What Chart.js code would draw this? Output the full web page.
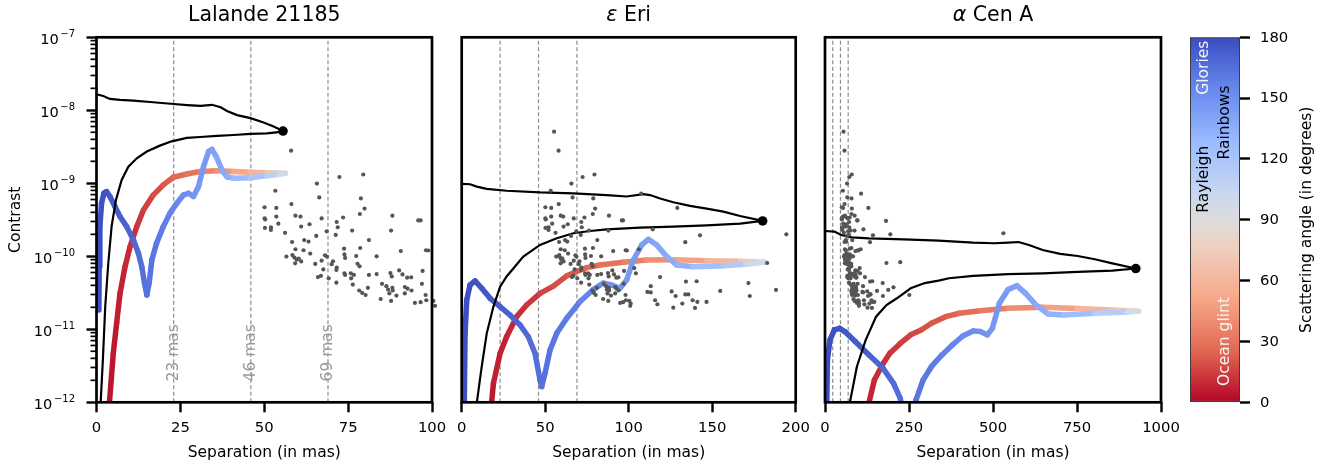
<!DOCTYPE html>
<html>
<head>
<meta charset="utf-8">
<script src="https://cdn.jsdelivr.net/npm/chart.js@4.4.1/dist/chart.umd.min.js"></script>
<style>
  html, body { margin: 0; padding: 0; background: #fff; }
  #wrap { position: relative; width: 1343px; height: 469px; }
  #wrap canvas { position: absolute; left: 0; top: 0; }
</style>
</head>
<body>
<div id="wrap">
  <canvas id="p1" width="1343" height="469"></canvas>
  <canvas id="p2" width="1343" height="469"></canvas>
  <canvas id="p3" width="1343" height="469"></canvas>
  <canvas id="cb" width="1343" height="469"></canvas>
</div>
<script>
// ---- shared axis values ----
const Y_MAJOR = [1e-12, 1e-11, 1e-10, 1e-9, 1e-8, 1e-7];
const Y_EXP = [-12, -11, -10, -9, -8, -7];
const SEP_LINES = [23, 46, 69]; // mas
const CB_LABELS = ["Glories", "Rainbows", "Rayleigh", "Ocean glint"];
const CB_LABEL_ANGLES = [165, 138, 110, 30];

// ---- grey dots (same set drawn in every panel) ----
const DOTS_X = [58.0, 72.4, 79.5, 65.7, 53.3, 66.4, 78.8, 50.1, 53.6, 58.1, 79.9, 78.5, 50.1, 50.3, 53.6, 59.3, 60.8, 67.1, 71.6, 73.5,
  88.2, 95.9, 96.6, 54.2, 50.2, 52.0, 52.0, 61.0, 63.5, 71.9, 56.2, 68.6, 71.3, 76.2, 87.8, 65.5, 81.2, 58.3, 61.9, 63.2,
  59.3, 61.7, 63.7, 73.8, 78.6, 90.7, 98.2, 98.9, 106.1, 56.6, 58.4, 59.0, 59.7, 60.3, 61.0, 59.2, 65.2, 67.1, 68.1, 68.7,
  73.9, 74.1, 77.4, 83.5, 70.5, 70.1, 71.6, 71.5, 67.6, 77.8, 78.4, 66.0, 66.9, 69.2, 71.5, 73.9, 74.1, 75.8, 76.7, 75.9,
  76.4, 81.2, 83.5, 87.6, 88.0, 90.2, 91.2, 92.6, 93.8, 97.2, 103.3, 104.3, 78.3, 79.2, 80.2, 80.9, 85.1, 86.4, 86.9, 87.3,
  88.2, 88.3, 89.4, 91.9, 92.7, 91.9, 93.9, 97.0, 84.7, 87.8, 94.9, 96.6, 98.1, 98.3, 100.4, 101.2, 100.9, 107.5, 55.3,
  129.1, 114.4, 142.7, 133.9, 118.8, 134.3, 140.7, 111.2, 113.2, 113.2, 115.8, 117.2, 125.7, 128.1, 133.9, 135.7, 138.3,
  141.1, 139.7, 146.6, 126.7, 132.1, 154.8, 171.7, 172.5, 182.9, 188.2, 194.4, 203.8, 181.5, 224, 251, 531];
const DOTS_Y = [2.8e-9, 1.22e-9, 1.32e-9, 9.9e-10, 7.9e-10, 6.4e-10, 6.2e-10, 4.7e-10, 4.6e-10, 5.2e-10, 4.5e-10, 3.8e-10, 3.3e-10, 3.2e-10, 3.5e-10, 3.6e-10, 3.5e-10, 3.3e-10, 2.95e-10, 3.4e-10,
  3.6e-10, 3.1e-10, 3.1e-10, 2.8e-10, 2.45e-10, 2.5e-10, 2.3e-10, 2.55e-10, 2.75e-10, 2.5e-10, 2.1e-10, 2.2e-10, 1.96e-10, 2.25e-10, 2.25e-10, 1.9e-10, 1.67e-10, 1.57e-10, 1.67e-10, 1.59e-10,
  1.25e-10, 1.21e-10, 1.09e-10, 1.27e-10, 1.3e-10, 1.18e-10, 1.21e-10, 1.2e-10, 1.25e-10, 9.9e-11, 1.04e-10, 9.6e-11, 9.0e-11, 9.3e-11, 8.5e-11, 8.0e-11, 7.85e-11, 8.7e-11, 1.03e-10, 9.9e-11,
  1.06e-10, 9.5e-11, 1.01e-10, 1.0e-10, 8.55e-11, 7.8e-11, 7.0e-11, 6.5e-11, 6.6e-11, 7.9e-11, 7.3e-11, 5.2e-11, 5.4e-11, 5.0e-11, 4.35e-11, 5.85e-11, 5.55e-11, 5.85e-11, 5.55e-11, 5.0e-11,
  4.1e-11, 5.55e-11, 5.7e-11, 5.9e-11, 5.3e-11, 6.4e-11, 5.65e-11, 5.1e-11, 5.15e-11, 6.3e-11, 6.9e-11, 5.85e-11, 3.4e-11, 3.15e-11, 2.95e-11, 3.7e-11, 4.2e-11, 3.9e-11, 3.5e-11, 3.1e-11,
  3.7e-11, 3.4e-11, 2.9e-11, 3.8e-11, 3.6e-11, 3.1e-11, 3.4e-11, 4.2e-11, 2.6e-11, 2.45e-11, 2.3e-11, 2.35e-11, 2.95e-11, 2.5e-11, 2.45e-11, 2.25e-11, 2.1e-11, 7.2e-10, 5.1e-9,
  4.6e-10, 2.34e-10, 1.94e-10, 1.56e-10, 5.2e-11, 4.5e-11, 4.55e-11, 3.25e-11, 3.2e-11, 3.9e-11, 2.5e-11, 2.2e-11, 3.3e-11, 2.86e-11, 3.0e-11, 3.0e-11, 2.5e-11,
  2.37e-11, 1.96e-11, 2.37e-11, 1.98e-11, 2.25e-11, 3.35e-11, 4.3e-11, 2.86e-11, 8.1e-11, 3.46e-11, 2.0e-10, 3.76e-11, 3.05e-10, 8.3e-11, 2.95e-11, 2.07e-10];

// ---- Lalande 21185 ----
const P1_RED_X = [3.7, 5.0, 6.0, 7.0, 8.5, 10.0, 12.0, 14.0, 16.9, 19.9, 22.9, 26.9, 30.9, 35.9, 40.9, 45.9, 50.8, 54.5, 56.3];
const P1_RED_Y = [8e-13, 4.7e-12, 1.21e-11, 3.1e-11, 7.2e-11, 1.36e-10, 2.55e-10, 4.3e-10, 6.9e-10, 9.5e-10, 1.21e-9, 1.34e-9, 1.45e-9, 1.49e-9, 1.45e-9, 1.42e-9, 1.40e-9, 1.38e-9, 1.37e-9];
const P1_RED_A = [4, 5, 6, 7, 9, 10, 12, 14, 17, 21, 24, 28, 33, 40, 47, 55, 64, 75, 88];
const P1_BLUE_X = [0.7, 0.8, 1.0, 1.5, 2.2, 3.0, 4.0, 5.5, 7.0, 9.0, 11.0, 12.5, 13.5, 14.3, 15.0, 15.7, 16.5, 17.9, 19.9, 21.9,
  23.9, 25.9, 27.4, 28.9, 30.4, 31.9, 33.4, 34.4, 35.7, 37.4, 38.9, 40.9, 45.9, 50.8, 54.5, 56.3];
const P1_BLUE_Y = [1.84e-11, 7.2e-11, 2.55e-10, 5.3e-10, 7.3e-10, 7.7e-10, 6.6e-10, 4.8e-10, 3.5e-10, 2.55e-10, 1.67e-10, 1.10e-10, 7.2e-11, 4.3e-11, 2.95e-11, 4.3e-11, 8.9e-11, 1.51e-10, 2.55e-10, 3.9e-10,
  5.3e-10, 6.9e-10, 7.3e-10, 6.6e-10, 9.0e-10, 1.69e-9, 2.72e-9, 2.92e-9, 2.32e-9, 1.52e-9, 1.23e-9, 1.17e-9, 1.19e-9, 1.27e-9, 1.33e-9, 1.37e-9];
const P1_BLUE_A = [179, 179, 179, 178, 178, 177, 176, 174, 173, 171, 169, 167, 166, 165, 164, 164, 163, 161, 159, 157,
  155, 153, 151, 149, 147, 145, 144, 142, 141, 138, 136, 133, 125, 115, 105, 90];
const P1_LOW_X = [0.9, 1.9, 2.6, 3.5, 4.5, 5.8, 7.5, 9.5, 12.0, 15.0, 18.9, 22.4, 26.9, 30.9, 35.9, 40.9, 45.9, 50.8, 55.6];
const P1_LOW_Y = [5e-13, 3.8e-12, 2.04e-11, 7.9e-11, 2.57e-10, 5.9e-10, 1.11e-9, 1.69e-9, 2.2e-9, 2.72e-9, 3.28e-9, 3.76e-9, 4.18e-9, 4.31e-9, 4.45e-9, 4.59e-9, 4.74e-9, 4.84e-9, 5.1e-9];
const P1_UP_X = [0, 2.0, 4.0, 7.0, 11.0, 16.0, 23.0, 27.0, 31.0, 34.4, 37.0, 38.9, 41.9, 45.9, 49.8, 52.8, 55.6];
const P1_UP_Y = [1.66e-8, 1.57e-8, 1.43e-8, 1.39e-8, 1.36e-8, 1.30e-8, 1.22e-8, 1.18e-8, 1.15e-8, 1.19e-8, 1.1e-8, 9.8e-9, 8.6e-9, 7.8e-9, 6.8e-9, 6.0e-9, 5.2e-9];
const P1_DOT = [55.6, 5.2e-9];

// ---- eps Eri ----
const P2_RED_X = [17.5, 19.0, 23.0, 26.9, 32.9, 38.9, 46.9, 54.9, 62.9, 68.9, 74.9, 82.8, 96.8, 110.8, 126.7, 146.7, 166.7, 176, 181.6];
const P2_RED_Y = [8e-13, 1.82e-12, 4.7e-12, 7.9e-12, 1.49e-11, 2.15e-11, 3.1e-11, 3.9e-11, 5.4e-11, 6.2e-11, 7.0e-11, 7.6e-11, 8.3e-11, 8.9e-11, 9.0e-11, 8.7e-11, 8.55e-11, 8.4e-11, 8.3e-11];
const P2_RED_A = [5, 6, 7, 8, 10, 12, 15, 18, 20, 22, 24, 27, 32, 38, 44, 54, 67, 76, 90];
const P2_BLUE_X = [1.5, 2.0, 3.0, 5.0, 8.0, 12.0, 17.0, 23.0, 28.9, 34.9, 39.9, 43.9, 46.9, 47.9, 49.9, 52.9, 56.9, 62.9, 70.9, 78.8,
  84.8, 89.8, 94.8, 98.8, 102.8, 107.8, 111.8, 116.8, 122.8, 128.7, 138.7, 156.7, 170, 181.6];
const P2_BLUE_Y = [8e-13, 8.8e-12, 2.52e-11, 4.05e-11, 4.6e-11, 3.65e-11, 2.66e-11, 2.05e-11, 1.57e-11, 1.15e-11, 7.9e-12, 4.7e-12, 2.02e-12, 1.64e-12, 2.5e-12, 5.2e-12, 8.8e-12, 1.42e-11, 2.4e-11, 3.5e-11,
  4.3e-11, 4.05e-11, 3.65e-11, 4.75e-11, 8.9e-11, 1.43e-10, 1.71e-10, 1.43e-10, 9.9e-11, 7.6e-11, 7.2e-11, 7.4e-11, 7.8e-11, 8.3e-11];
const P2_BLUE_A = [180, 179, 179, 178, 177, 176, 175, 173, 171, 169, 167, 166, 165, 165, 164, 163, 162, 160, 157, 154,
  152, 150, 148, 147, 145, 144, 142, 140, 137, 135, 130, 120, 111, 90];
const P2_LOW_X = [8.5, 12.0, 15.0, 19.0, 23.0, 26.9, 36.9, 46.9, 56.9, 66.9, 76.8, 86.8, 106.8, 126.7, 146.7, 166.7, 180.2];
const P2_LOW_Y = [8e-13, 3.1e-12, 8.8e-12, 2.05e-11, 3.84e-11, 5.3e-11, 9.9e-11, 1.43e-10, 1.77e-10, 2.07e-10, 2.22e-10, 2.34e-10, 2.47e-10, 2.55e-10, 2.66e-10, 2.8e-10, 3.05e-10];
const P2_UP_X = [0, 5.0, 9.0, 15.0, 26.9, 46.9, 66.9, 86.8, 98.8, 108.8, 112.8, 118.8, 126.7, 136.7, 146.7, 156.7, 166.7, 180.2];
const P2_UP_Y = [9.8e-10, 9.7e-10, 9.0e-10, 8.4e-10, 7.9e-10, 7.5e-10, 7.3e-10, 6.9e-10, 6.6e-10, 7.1e-10, 6.9e-10, 6.2e-10, 5.5e-10, 4.9e-10, 4.5e-10, 4.1e-10, 3.57e-10, 3.05e-10];
const P2_DOT = [180.2, 3.05e-10];

// ---- alpha Cen A ----
const P3_RED_X = [126, 147, 173, 193, 224, 255, 286, 317, 359, 400, 462, 545, 648, 752, 855, 905, 933];
const P3_RED_Y = [8e-13, 2.02e-12, 3.4e-12, 4.7e-12, 6.4e-12, 8.4e-12, 9.8e-12, 1.21e-11, 1.49e-11, 1.66e-11, 1.8e-11, 1.94e-11, 2.0e-11, 1.92e-11, 1.84e-11, 1.8e-11, 1.77e-11];
const P3_RED_A = [8, 9, 11, 12, 14, 16, 18, 20, 23, 25, 30, 36, 44, 54, 66, 76, 90];
const P3_BLUE_X = [5, 7.2, 14.5, 27.9, 43.4, 58.9, 90, 131, 173, 204, 224, 248, 271, 292, 317, 348, 379, 410, 441, 462,
  483, 498, 519, 545, 571, 597, 628, 664, 710, 803, 900, 933];
const P3_BLUE_Y = [8e-13, 3.8e-12, 7.1e-12, 9.8e-12, 1.03e-11, 9.3e-12, 6.8e-12, 4.45e-12, 2.92e-12, 1.82e-12, 1.13e-12, 3e-13, 1.08e-12, 2.02e-12, 3.1e-12, 4.45e-12, 6.1e-12, 8.1e-12, 9.5e-12, 9.3e-12,
  8.4e-12, 1.03e-11, 2.27e-11, 3.5e-11, 3.96e-11, 3.1e-11, 2.15e-11, 1.62e-11, 1.57e-11, 1.66e-11, 1.72e-11, 1.77e-11];
const P3_BLUE_A = [180, 180, 179, 178, 177, 176, 175, 172, 169, 167, 166, 165, 163, 162, 160, 158, 156, 154, 152, 150,
  149, 148, 146, 144, 142, 140, 138, 135, 130, 121, 105, 90];
const P3_LOW_X = [70, 95, 121, 152, 183, 214, 255, 297, 338, 369, 441, 545, 648, 752, 855, 925];
const P3_LOW_Y = [8e-13, 3.1e-12, 7.1e-12, 1.49e-11, 2.15e-11, 2.66e-11, 3.65e-11, 4.3e-11, 4.65e-11, 5.0e-11, 5.4e-11, 5.7e-11, 5.85e-11, 6.1e-11, 6.35e-11, 6.8e-11];
const P3_UP_X = [0, 27.9, 48.6, 79.6, 131, 235, 338, 441, 504, 545, 576, 607, 648, 700, 752, 803, 855, 925];
const P3_UP_Y = [2.22e-10, 2.18e-10, 1.96e-10, 1.82e-10, 1.76e-10, 1.71e-10, 1.64e-10, 1.54e-10, 1.51e-10, 1.54e-10, 1.57e-10, 1.43e-10, 1.22e-10, 1.08e-10, 1.01e-10, 9.1e-11, 8.0e-11, 6.8e-11];
const P3_DOT = [925, 6.8e-11];

// coolwarm, reversed so 0 deg is red and 180 deg is blue
const CMAP = [
  [0, "#b40426"], [25.7, "#e26952"], [51.4, "#f7a889"], [77.1, "#edd1c2"], [90, "#dddddd"],
  [102.9, "#c9d7f0"], [128.6, "#9abbff"], [154.3, "#6788ee"], [180, "#3b4cc0"],
];

const FONT = "'DejaVu Sans', sans-serif";
Chart.defaults.font.family = FONT;
Chart.defaults.color = "#000";

function hex(c) {
  return [1, 3, 5].map((i) => parseInt(c.slice(i, i + 2), 16));
}

function angleColor(a) {
  a = Math.max(0, Math.min(180, a));
  for (let i = 1; i < CMAP.length; i++) {
    if (a <= CMAP[i][0]) {
      const [a0, c0] = CMAP[i - 1], [a1, c1] = CMAP[i];
      const t = (a - a0) / (a1 - a0);
      const p = hex(c0), q = hex(c1);
      const rgb = p.map((v, k) => Math.round(v + (q[k] - v) * t));
      return `rgb(${rgb.join(",")})`;
    }
  }
  return CMAP[CMAP.length - 1][1];
}

function pts(xs, ys) {
  return xs.map((x, i) => ({ x, y: ys[i] }));
}

function curve(xs, ys, ang, order) {
  return {
    data: pts(xs, ys),
    showLine: true,
    borderWidth: 5.5,
    borderCapStyle: "round",
    borderJoinStyle: "round",
    borderColor: angleColor(ang[0]),
    segment: {
      borderColor: (c) => angleColor((ang[c.p0DataIndex] + ang[c.p1DataIndex]) / 2),
    },
    pointRadius: 0,
    order,
  };
}

function blackLine(xs, ys) {
  return { data: pts(xs, ys), showLine: true, borderColor: "#000", borderWidth: 2.2, pointRadius: 0, order: 2 };
}

// white axes face, thick frame and the title (greek letter in italic, as mathtext does)
const paneFrame = {
  id: "paneFrame",
  beforeDraw(chart) {
    const { ctx, chartArea: a } = chart;
    ctx.save();
    ctx.fillStyle = "#fff";
    ctx.fillRect(a.left, a.top, a.width, a.height);
    ctx.restore();
  },
  afterDraw(chart) {
    const { ctx, chartArea: a } = chart;
    ctx.save();
    ctx.strokeStyle = "#000";
    ctx.lineWidth = 2.7;
    ctx.strokeRect(a.left, a.top, a.width, a.height);

    const [greek, rest] = chart.options.plugins.paneFrame.title;
    const fItal = `italic 20.5px ${FONT}`, fNorm = `20.5px ${FONT}`;
    ctx.font = fItal;
    const wG = greek ? ctx.measureText(greek).width : 0;
    ctx.font = fNorm;
    const wR = ctx.measureText(rest).width;
    let x = (a.left + a.right) / 2 - (wG + wR) / 2;
    ctx.fillStyle = "#000";
    ctx.textAlign = "left";
    ctx.textBaseline = "middle";
    if (greek) {
      ctx.font = fItal;
      ctx.fillText(greek, x, 16);
      x += wG;
    }
    ctx.font = fNorm;
    ctx.fillText(rest, x, 16);
    ctx.restore();
  },
};

// minor log ticks, 10^n tick labels and "xx mas" labels, first panel only
const firstPanelExtras = {
  id: "firstPanelExtras",
  afterDraw(chart) {
    const { ctx, chartArea: a, scales } = chart;
    ctx.save();
    ctx.strokeStyle = "#000";
    ctx.lineWidth = 1.7;
    for (let e = -12; e < -7; e++) {
      for (let m = 2; m <= 9; m++) {
        const y = scales.y.getPixelForValue(m * Math.pow(10, e));
        ctx.beginPath();
        ctx.moveTo(a.left - 6, y);
        ctx.lineTo(a.left, y);
        ctx.stroke();
      }
    }

    ctx.fillStyle = "#000";
    ctx.textAlign = "right";
    ctx.textBaseline = "alphabetic";
    const right = a.left - 21.5;
    Y_MAJOR.forEach((v, i) => {
      const y = scales.y.getPixelForValue(v);
      const ex = String(Y_EXP[i]).replace("-", "\u2212");
      ctx.font = `10px ${FONT}`;
      const wE = ctx.measureText(ex).width;
      ctx.fillText(ex, right, y - 0.3);
      ctx.font = `14.6px ${FONT}`;
      ctx.fillText("10", right - wE - 1.5, y + 6.7);
    });

    ctx.fillStyle = "#999";
    ctx.font = `15.5px ${FONT}`;
    ctx.textAlign = "left";
    ctx.textBaseline = "middle";
    SEP_LINES.forEach((v) => {
      ctx.save();
      ctx.translate(scales.x.getPixelForValue(v), scales.y.getPixelForValue(1.93e-12));
      ctx.rotate(-Math.PI / 2);
      ctx.fillText(`${v} mas`, 0, 0);
      ctx.restore();
    });
    ctx.restore();
  },
};

function panel(id, o) {
  const datasets = [
    ...SEP_LINES.map((v) => ({
      data: [{ x: v, y: 1e-12 }, { x: v, y: 1e-7 }],
      showLine: true,
      borderColor: "#8c8c8c",
      borderWidth: 1.2,
      borderDash: [4, 2.5],
      pointRadius: 0,
      order: 6,
    })),
    curve(o.redX, o.redY, o.redA, 5),
    curve(o.blueX, o.blueY, o.blueA, 4),
    blackLine(o.lowX, o.lowY),
    blackLine(o.upX, o.upY),
    {
      data: pts(DOTS_X, DOTS_Y),
      showLine: false,
      pointRadius: 2.1,
      pointBackgroundColor: "#555",
      pointBorderWidth: 0,
      clip: false,
      order: 1,
    },
    {
      data: [{ x: o.dot[0], y: o.dot[1] }],
      pointRadius: 4.8,
      pointBackgroundColor: "#000",
      pointBorderWidth: 0,
      order: 0,
    },
  ];

  const tickGrid = { drawOnChartArea: false, tickLength: 10, tickWidth: 2.4, tickColor: "#000" };
  const yScale = { type: "logarithmic", min: 1e-12, max: 1e-7, display: !!o.showY };
  if (o.showY) {
    Object.assign(yScale, {
      afterBuildTicks: (s) => { s.ticks = Y_MAJOR.map((v) => ({ value: v })); },
      afterFit: (s) => { s.width = 96; },
      ticks: { callback: () => "" },
      grid: tickGrid,
      border: { display: false },
      title: { display: true, text: "Contrast", font: { size: 15.5 }, padding: { top: 6.2, bottom: 0 } },
    });
  }

  return new Chart(document.getElementById(id), {
    type: "scatter",
    data: { datasets },
    options: {
      responsive: false,
      animation: false,
      events: [],
      layout: { padding: { left: o.padL, right: o.padR, top: 37.3, bottom: 0 } },
      plugins: {
        legend: { display: false },
        tooltip: { enabled: false },
        title: { display: false },
        paneFrame: { title: o.title },
      },
      scales: {
        x: {
          type: "linear",
          min: 0,
          max: o.xMax,
          afterFit: (s) => { s.height = 66.7; },
          ticks: { stepSize: o.xStep, font: { size: 14.8 }, padding: 6.5, autoSkip: false, maxRotation: 0, callback: (v) => String(v) },
          grid: tickGrid,
          border: { display: false },
          title: { display: true, text: "Separation (in mas)", font: { size: 15.5 }, padding: { top: 0, bottom: 6.8 } },
        },
        y: yScale,
      },
    },
    plugins: o.showY ? [paneFrame, firstPanelExtras] : [paneFrame],
  });
}

panel("p1", {
  title: ["", "Lalande 21185"], xMax: 100, xStep: 25, padL: 0.5, padR: 911, showY: true,
  redX: P1_RED_X, redY: P1_RED_Y, redA: P1_RED_A, blueX: P1_BLUE_X, blueY: P1_BLUE_Y, blueA: P1_BLUE_A,
  lowX: P1_LOW_X, lowY: P1_LOW_Y, upX: P1_UP_X, upY: P1_UP_Y, dot: P1_DOT,
});
panel("p2", {
  title: ["\u03b5", " Eri"], xMax: 200, xStep: 50, padL: 461.7, padR: 547.3,
  redX: P2_RED_X, redY: P2_RED_Y, redA: P2_RED_A, blueX: P2_BLUE_X, blueY: P2_BLUE_Y, blueA: P2_BLUE_A,
  lowX: P2_LOW_X, lowY: P2_LOW_Y, upX: P2_UP_X, upY: P2_UP_Y, dot: P2_DOT,
});
panel("p3", {
  title: ["\u03b1", " Cen A"], xMax: 1000, xStep: 250, padL: 825, padR: 182,
  redX: P3_RED_X, redY: P3_RED_Y, redA: P3_RED_A, blueX: P3_BLUE_X, blueY: P3_BLUE_Y, blueA: P3_BLUE_A,
  lowX: P3_LOW_X, lowY: P3_LOW_Y, upX: P3_UP_X, upY: P3_UP_Y, dot: P3_DOT,
});

// ---- colorbar ----
const cbText = {
  id: "cbText",
  afterDraw(chart) {
    const { ctx, chartArea: a, scales } = chart;
    const xs = [0.28, 0.7, 0.28, 0.7];
    const colors = ["#f4f4f4", "#000", "#000", "#f4f4f4"];
    ctx.save();
    ctx.font = `15.5px ${FONT}`;
    ctx.textAlign = "center";
    ctx.textBaseline = "middle";
    CB_LABELS.forEach((t, i) => {
      ctx.save();
      ctx.translate(a.left + a.width * xs[i], scales.y.getPixelForValue(CB_LABEL_ANGLES[i]));
      ctx.rotate(-Math.PI / 2);
      ctx.fillStyle = colors[i];
      ctx.fillText(t, 0, 0);
      ctx.restore();
    });

    // tick labels
    ctx.fillStyle = "#000";
    ctx.font = `14.8px ${FONT}`;
    ctx.textAlign = "left";
    scales.y.ticks.forEach((t) => {
      ctx.fillText(String(t.value), a.right + 20, scales.y.getPixelForValue(t.value) + 0.5);
    });

    ctx.font = `15.5px ${FONT}`;
    ctx.textAlign = "center";
    ctx.translate(1307, (a.top + a.bottom) / 2);
    ctx.rotate(-Math.PI / 2);
    ctx.fillText("Scattering angle (in degrees)", 0, 0);
    ctx.restore();
  },
};

new Chart(document.getElementById("cb"), {
  type: "bar",
  data: {
    labels: [""],
    datasets: [{
      data: [[0, 180]],
      backgroundColor: (c) => {
        const ch = c.chart;
        if (!ch.chartArea) return "#ddd";
        const ys = ch.scales.y;
        const g = ch.ctx.createLinearGradient(0, ys.getPixelForValue(0), 0, ys.getPixelForValue(180));
        CMAP.forEach(([ang, col]) => g.addColorStop(ang / 180, col));
        return g;
      },
      borderColor: "#3a3a3a",
      borderWidth: 1.3,
      borderSkipped: false,
      barPercentage: 1,
      categoryPercentage: 1,
    }],
  },
  options: {
    responsive: false,
    animation: false,
    events: [],
    layout: { padding: { left: 1190, right: 0, top: 37.3, bottom: 66.7 } },
    plugins: { legend: { display: false }, tooltip: { enabled: false } },
    scales: {
      x: { display: false },
      y: {
        position: "right",
        min: 0,
        max: 180,
        afterFit: (s) => { s.width = 103; },
        ticks: { stepSize: 30, callback: () => "" },
        grid: { drawOnChartArea: false, tickLength: 10, tickWidth: 2.4, tickColor: "#000" },
        border: { display: false },
      },
    },
  },
  plugins: [cbText],
});
</script>
</body>
</html>
